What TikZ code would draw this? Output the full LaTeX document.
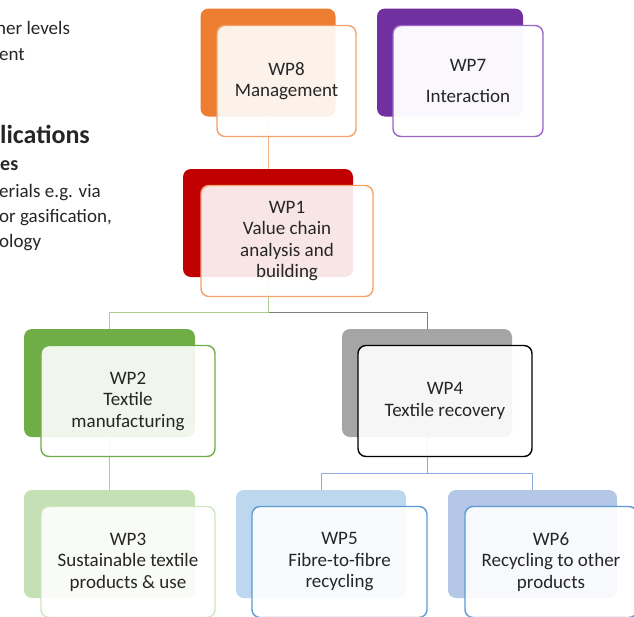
\documentclass[tikz,border=0pt]{standalone}
\usepackage{fontspec}
\setmainfont{Carlito}
\usepackage{xcolor}
\usepackage{tikz}
\usetikzlibrary{backgrounds}

\definecolor{wporange}{HTML}{ED7D31}
\definecolor{wporangeline}{HTML}{F4A16A}
\definecolor{wppurple}{HTML}{7030A0}
\definecolor{wppurpleline}{HTML}{9A64C8}
\definecolor{wpred}{HTML}{C00000}
\definecolor{wpgreen}{HTML}{70AD47}
\definecolor{wpgray}{HTML}{A5A5A5}
\definecolor{wplightgreen}{HTML}{C5E0B4}
\definecolor{wplightgreenline}{HTML}{CFE6C1}
\definecolor{wplightblue}{HTML}{BDD7EE}
\definecolor{wpblue}{HTML}{B4C7E7}
\definecolor{wpblueline}{HTML}{5B9BD5}
\definecolor{wptext}{HTML}{262626}
\definecolor{linkgreen}{HTML}{A9D18E}
\definecolor{linkgray}{HTML}{7F7F7F}
\definecolor{linkblue}{HTML}{8FAADC}
\definecolor{linkorange}{HTML}{F4B183}

\begin{document}
\begin{tikzpicture}[x=1pt,y=-1pt,
  back/.style={rectangle,rounded corners=8pt,minimum height=108pt},
  front/.style={rectangle,rounded corners=8pt,draw,line width=1.4pt,fill=white,fill opacity=0.9,text opacity=1,
    minimum height=111pt,align=center,text=wptext,font=\fontsize{19}{21.5}\selectfont},
  side/.style={anchor=base west,inner sep=0pt,text=wptext,font=\fontsize{19}{21.5}\selectfont},
  link/.style={line width=1pt}]
\useasboundingbox (0,0) rectangle (634,616);
\clip (0,0) rectangle (634,616);

% cut-off slide text on the left
\node (side1) at (-4,34) [side] {her levels};
\node (side2) at (-1,60) [side] {ent};
\node (side3) at (0,143) [side,font=\fontsize{26}{30}\selectfont\bfseries] {lications};
\node (side4) at (0,170) [side,font=\fontsize{20}{24}\selectfont\bfseries] {es};
\node (side5) at (-1,197) [side] {erials e.g. via};
\node (side6) at (-1,222) [side] {or gasification,};
\node (side7) at (-1,247) [side] {ology};

% work packages
\node (wp8b) at (268,62.5) [back,fill=wporange,minimum width=135pt] {};
\node (wp8) at (286.5,81) [front,draw=wporangeline,minimum width=139pt] {WP8\\Management};
\node (wp7b) at (450,62.5) [back,fill=wppurple,minimum width=146pt] {};
\node (wp7) at (468,81) [front,draw=wppurpleline,fill opacity=0.97,minimum width=150pt] {WP7\\[9pt]Interaction};
\node (wp1b) at (268,223) [back,fill=wpred,minimum width=170pt] {};
\node (wp1) at (287,241) [front,draw=wporangeline,minimum width=172pt] {WP1\\Value chain\\analysis and\\building};
\node (wp2b) at (109.5,383) [back,fill=wpgreen,minimum width=171pt] {};
\node (wp2) at (128,401) [front,draw=wpgreen,minimum width=174pt] {WP2\\Textile\\manufacturing};
\node (wp4b) at (427,383) [back,fill=wpgray,minimum width=170pt] {};
\node (wp4) at (445,401) [front,draw=black,minimum width=174pt] {WP4\\Textile recovery};
\node (wp3b) at (109.5,544) [back,fill=wplightgreen,minimum width=171pt] {};
\node (wp3) at (128,562) [front,draw=wplightgreenline,minimum width=174pt] {WP3\\Sustainable textile\\products \& use};
\node (wp5b) at (321,544) [back,fill=wplightblue,minimum width=170pt] {};
\node (wp5) at (339.5,562) [front,draw=wpblueline,minimum width=175pt] {WP5\\Fibre-to-fibre\\recycling};
\node (wp6b) at (532.5,544) [back,fill=wpblue,minimum width=169pt] {};
\node (wp6) at (551,562) [front,draw=wpblueline,minimum width=172pt] {WP6\\Recycling to other\\products};

% connectors behind the boxes
\begin{pgfonlayer}{background}
\draw [link,linkorange] (wp8b.south) -- (wp1b.north);
\draw [link,linkgray] (wp1b.south) -- ++(0,35) -| (wp4b.north);
\draw [link,linkgreen] (wp1b.south) -- ++(0,35) -| (wp2b.north);
\draw [link,linkgreen] (wp2b.south) -- (wp3b.north);
\draw [link,linkblue] (wp4b.south) -- ++(0,36) -| (wp5b.north);
\draw [link,linkblue] (wp4b.south) -- ++(0,36) -| (wp6b.north);
\end{pgfonlayer}
\end{tikzpicture}
\end{document}
